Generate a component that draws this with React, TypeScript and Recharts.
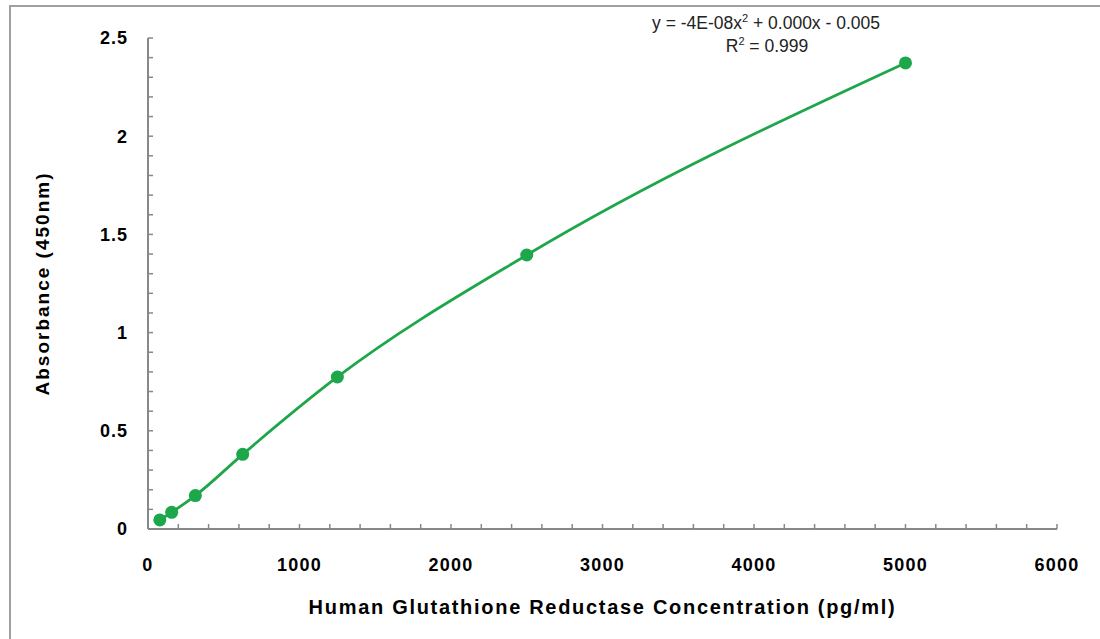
import { ComposedChart, Line, XAxis, YAxis, Customized } from 'recharts';

const CONCENTRATIONS = [78.125, 156.25, 312.5, 625, 1250, 2500, 5000];
const ABSORBANCE = [0.046, 0.085, 0.17, 0.38, 0.774, 1.395, 2.373];
// minor ticks every 200 / 0.1, labels only on the major ones
const X_TICKS = Array.from({ length: 31 }, (_, i) => i * 200);
const Y_TICKS = Array.from({ length: 26 }, (_, i) => Math.round(i * 10) / 100);
const X_LABEL_STEP = 1000;
const Y_LABEL_STEP = 0.5;
const EQUATION = 'y = -4E-08x';
const EQUATION_REST = ' + 0.000x - 0.005';
const R_SQUARED = '0.999';

const data = CONCENTRATIONS.map((x, i) => ({ x, y: ABSORBANCE[i] }));

const GREEN = '#1ea64b';
const AXIS_GREY = '#888';
const FONT = '"Liberation Sans", Arial, sans-serif';
const X_GAP = 29;
const Y_GAP = 20;

function isMajor(value: number, step: number) {
  const r = value / step;
  return Math.abs(r - Math.round(r)) < 1e-6;
}

function XTick({ x, y, payload }: any) {
  const axisY = y - X_GAP;
  const v = payload.value;
  return (
    <g>
      <line x1={x} y1={axisY} x2={x} y2={axisY - 5} stroke={AXIS_GREY} strokeWidth={1.5} />
      {isMajor(v, X_LABEL_STEP) && (
        <text
          x={x}
          y={y}
          dy="0.71em"
          textAnchor="middle"
          fontFamily={FONT}
          fontSize={18}
          fontWeight={700}
          letterSpacing={1.3}
          fill="#000"
        >
          {v}
        </text>
      )}
    </g>
  );
}

function YTick({ x, y, payload }: any) {
  const axisX = x + Y_GAP;
  const v = payload.value;
  return (
    <g>
      <line x1={axisX} y1={y} x2={axisX + 5} y2={y} stroke={AXIS_GREY} strokeWidth={1.5} />
      {isMajor(v, Y_LABEL_STEP) && (
        <text
          x={x}
          y={y}
          dy="0.355em"
          textAnchor="end"
          fontFamily={FONT}
          fontSize={18}
          fontWeight={700}
          letterSpacing={1}
          fill="#000"
        >
          {v}
        </text>
      )}
    </g>
  );
}

function TrendLabel() {
  return (
    <g fontFamily={FONT} fill="#222" textAnchor="middle">
      <text x={766} y={29} fontSize={17.5}>
        {EQUATION}
        <tspan dy={-7} fontSize={11}>2</tspan>
        <tspan dy={7}>{EQUATION_REST}</tspan>
      </text>
      <text x={767} y={52} fontSize={17.5}>
        R<tspan dy={-7} fontSize={11}>2</tspan>
        <tspan dy={7}>{` = ${R_SQUARED}`}</tspan>
      </text>
    </g>
  );
}

export default function App() {
  return (
    <div style={{ position: 'absolute', left: 0, top: 0, width: 1100, height: 639, background: '#fff' }}>
      <div
        style={{
          position: 'absolute',
          left: 9,
          top: 5,
          right: 0,
          bottom: 0,
          borderLeft: '2px solid #a0a0a0',
          borderTop: '2px solid #a0a0a0',
        }}
      />
      <ComposedChart
        width={1100}
        height={639}
        data={data}
        margin={{ top: 38, right: 43, bottom: 0, left: 0 }}
        style={{ position: 'absolute', left: 0, top: 0 }}
      >
        <XAxis
          dataKey="x"
          type="number"
          domain={[0, 6000]}
          ticks={X_TICKS}
          interval={0}
          height={110}
          tickSize={0}
          tickMargin={X_GAP}
          tick={<XTick />}
          axisLine={{ stroke: AXIS_GREY, strokeWidth: 2 }}
          tickLine={false}
          label={{
            value: 'Human Glutathione Reductase Concentration (pg/ml)',
            content: ({ viewBox }: any) => (
              <text
                x={viewBox.x + viewBox.width / 2}
                y={614}
                textAnchor="middle"
                fontFamily={FONT}
                fontSize={20}
                fontWeight={700}
                letterSpacing={1.7}
                fill="#000"
              >
                Human Glutathione Reductase Concentration (pg/ml)
              </text>
            ),
          }}
        />
        <YAxis
          type="number"
          domain={[0, 2.5]}
          ticks={Y_TICKS}
          interval={0}
          width={148}
          tickSize={0}
          tickMargin={Y_GAP}
          tick={<YTick />}
          axisLine={{ stroke: AXIS_GREY, strokeWidth: 2 }}
          tickLine={false}
          label={{
            value: 'Absorbance (450nm)',
            content: ({ viewBox }: any) => {
              const cx = 42;
              const cy = viewBox.y + viewBox.height / 2;
              return (
                <text
                  x={cx}
                  y={cy}
                  transform={`rotate(-90, ${cx}, ${cy})`}
                  textAnchor="middle"
                  dominantBaseline="central"
                  fontFamily={FONT}
                  fontSize={19}
                  fontWeight={700}
                  letterSpacing={2}
                  fill="#000"
                >
                  Absorbance (450nm)
                </text>
              );
            },
          }}
        />
        <Line
          type="monotone"
          dataKey="y"
          stroke={GREEN}
          strokeWidth={2.8}
          dot={{ r: 6.5, fill: GREEN, stroke: GREEN, strokeWidth: 0 }}
          activeDot={false}
          isAnimationActive={false}
        />
        <Customized component={TrendLabel} />
      </ComposedChart>
    </div>
  );
}
